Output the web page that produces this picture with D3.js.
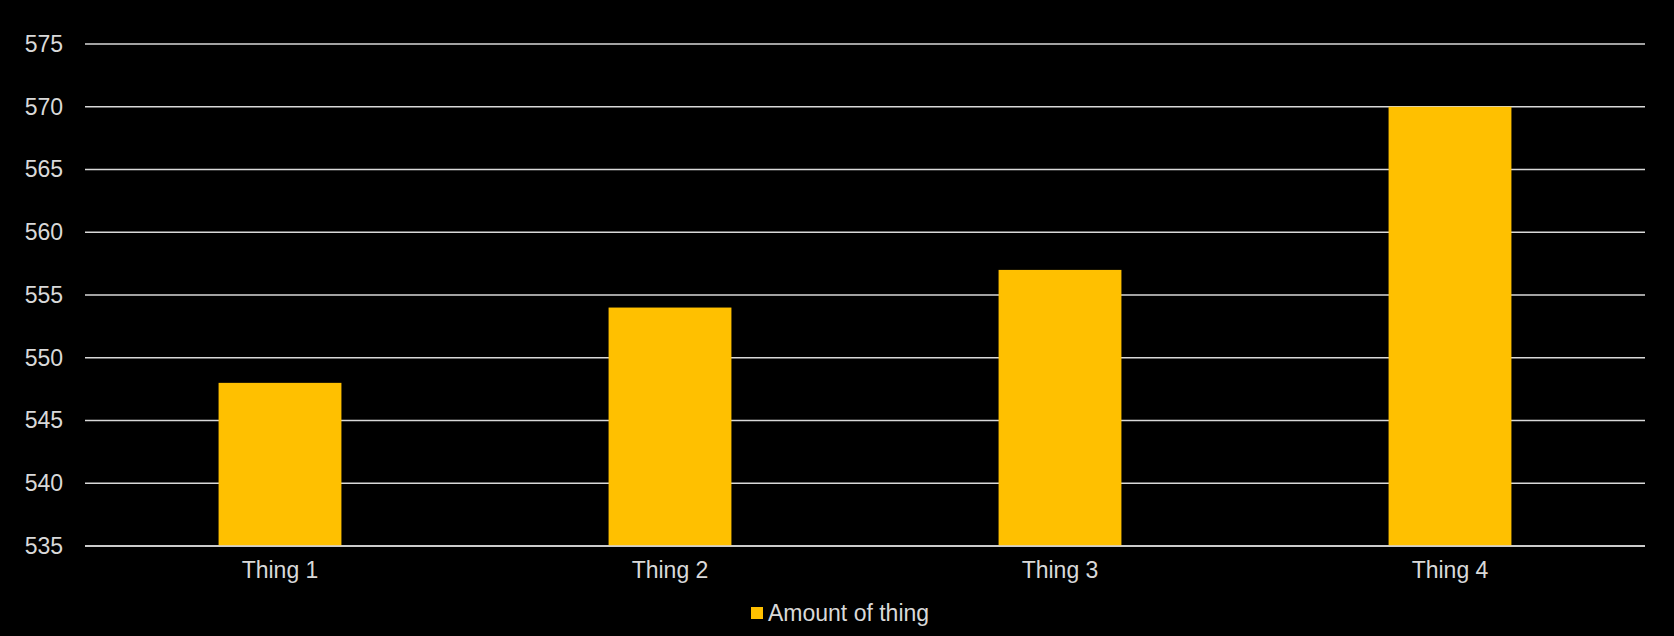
<!DOCTYPE html>
<html>
<head>
<meta charset="utf-8">
<script src="https://cdn.jsdelivr.net/npm/d3@7"></script>
<style>
  html, body { margin: 0; padding: 0; background: #000; }
  svg { display: block; }
  text { font-family: "Liberation Sans", Arial, sans-serif; fill: #d9d9d9; }
</style>
</head>
<body>
<svg></svg>
<script>
// chart data
var categories = ["Thing 1", "Thing 2", "Thing 3", "Thing 4"];
var amounts = [548, 554, 557, 570];
var yTicks = [535, 540, 545, 550, 555, 560, 565, 570, 575];
var seriesName = "Amount of thing";

var screen = {width: 1674, height: 636};
var margins = {left: 85, right: 29, top: 44, bottom: 90};

var graph = {
    width: screen.width - margins.left - margins.right,
    height: screen.height - margins.top - margins.bottom
};

var svg = d3.select("svg")
    .attr("width", screen.width)
    .attr("height", screen.height);

svg.append("rect")
    .attr("width", screen.width)
    .attr("height", screen.height)
    .attr("fill", "#000");

var target = svg.append("g")
    .attr("transform", "translate(" + margins.left + "," + margins.top + ")");

var xScale = d3.scaleBand()
    .domain(categories)
    .range([0, graph.width])
    .paddingInner(0.685)
    .paddingOuter(0.3425);

var yScale = d3.scaleLinear()
    .domain([535, 575])
    .range([graph.height, 0]);

// gridlines
target.append("g")
    .selectAll("line")
    .data(yTicks)
    .enter()
    .append("line")
    .attr("x1", 0)
    .attr("x2", graph.width)
    .attr("y1", function(d) { return yScale(d); })
    .attr("y2", function(d) { return yScale(d); })
    .attr("stroke", "#d9d9d9")
    .attr("stroke-width", 1.4);

// y labels
var yAxis = d3.axisLeft(yScale)
    .tickValues(yTicks)
    .tickSize(0)
    .tickPadding(22);

var yg = target.append("g").call(yAxis);
yg.select(".domain").remove();
yg.selectAll("text")
    .attr("fill", "#d9d9d9")
    .style("font-size", "23px")
    .style("font-family", "'Liberation Sans', Arial, sans-serif");

// bars
var data = categories.map(function(c, i) { return {name: c, value: amounts[i]}; });

target.selectAll(".bar")
    .data(data)
    .enter()
    .append("rect")
    .classed("bar", true)
    .attr("x", function(d) { return xScale(d.name); })
    .attr("width", xScale.bandwidth())
    .attr("y", function(d) { return yScale(d.value); })
    .attr("height", function(d) { return graph.height - yScale(d.value); })
    .attr("fill", "#ffc000");

// baseline drawn over bars
target.append("line")
    .attr("x1", 0)
    .attr("x2", graph.width)
    .attr("y1", graph.height)
    .attr("y2", graph.height)
    .attr("stroke", "#d9d9d9")
    .attr("stroke-width", 1.4);

// x labels
var xAxis = d3.axisBottom(xScale)
    .tickSize(0)
    .tickPadding(16);

var xg = target.append("g")
    .attr("transform", "translate(0," + graph.height + ")")
    .call(xAxis);
xg.select(".domain").remove();
xg.selectAll("text")
    .attr("fill", "#d9d9d9")
    .style("font-size", "23px")
    .style("font-family", "'Liberation Sans', Arial, sans-serif");

// legend
var legend = svg.append("g")
    .attr("transform", "translate(751,607)");

legend.append("rect")
    .attr("width", 12)
    .attr("height", 12)
    .attr("fill", "#ffc000");

legend.append("text")
    .attr("x", 17)
    .attr("y", 6)
    .attr("dy", "0.35em")
    .style("font-size", "23px")
    .text(seriesName);
</script>
</body>
</html>
